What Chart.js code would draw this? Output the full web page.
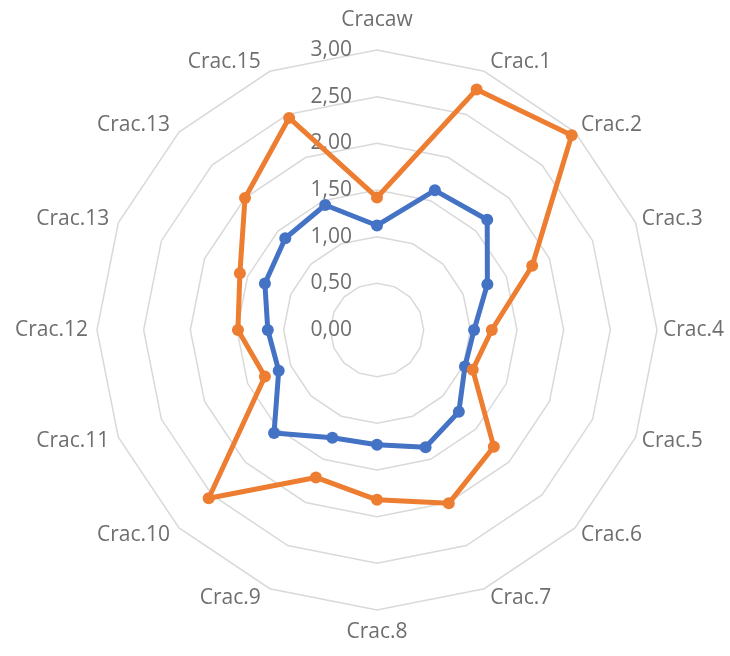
<!DOCTYPE html>
<html>
<head>
<meta charset="utf-8">
<title>Crac radar</title>
<script src="https://cdn.jsdelivr.net/npm/chart.js@4/dist/chart.umd.min.js"></script>
<style>
  html, body { margin: 0; padding: 0; background: #ffffff; }
  #c { display: block; }
</style>
</head>
<body>
<canvas id="c" width="730" height="656"></canvas>
<script>
// Categories around the radar, clockwise from the top
const categories = ['Cracaw', 'Crac.1', 'Crac.2', 'Crac.3', 'Crac.4', 'Crac.5', 'Crac.6', 'Crac.7',
                    'Crac.8', 'Crac.9', 'Crac.10', 'Crac.11', 'Crac.12', 'Crac.13', 'Crac.13', 'Crac.15'];

// Series values
const orangeValues = [1.42, 2.79, 2.95, 1.80, 1.23, 1.11, 1.77, 2.01, 1.82, 1.71, 2.55, 1.30, 1.49, 1.59, 2.00, 2.46];
const blueValues   = [1.12, 1.62, 1.67, 1.28, 1.04, 1.02, 1.24, 1.36, 1.23, 1.25, 1.56, 1.14, 1.17, 1.30, 1.39, 1.45];

// Value axis tick labels (0 to 3 in steps of 0.5)
const tickLabels = ['0,00', '0,50', '1,00', '1,50', '2,00', '2,50', '3,00'];

const LABEL_FONT = '21px "Open Sans"';
const LABEL_COLOR = '#6e6e6e';

// Draws value labels left of the vertical axis and category labels outside the outer ring,
// placed from the radial scale's own geometry.
const radarLabels = {
  id: 'radarLabels',
  beforeDatasetsDraw(chart) {
    const s = chart.scales.r;
    const ctx = chart.ctx;
    ctx.save();
    ctx.font = LABEL_FONT;
    ctx.fillStyle = LABEL_COLOR;
    ctx.textBaseline = 'middle';

    ctx.textAlign = 'right';
    s.ticks.forEach((t, i) => {
      const y = s.yCenter - s.getDistanceFromCenterForValue(t.value);
      ctx.fillText(tickLabels[i], s.xCenter - 25, y);
    });

    categories.forEach((name, i) => {
      const p = s.getPointPosition(i, s.drawingArea);
      const a = s.getIndexAngle(i);
      const sin = Math.sin(a), cos = Math.cos(a);
      let x = p.x, y;
      if (Math.abs(sin) < 0.01) {
        ctx.textAlign = 'center';
        y = cos > 0 ? p.y - 30 : p.y + 22;
      } else {
        ctx.textAlign = sin > 0 ? 'left' : 'right';
        x += sin > 0 ? 6 : -9;
        y = p.y - cos * 10;
      }
      ctx.fillText(name, x, y);
    });
    ctx.restore();
  }
};

const lineStyle = (color) => ({
  borderColor: color,
  backgroundColor: color,
  pointBackgroundColor: color,
  pointBorderColor: color,
  borderWidth: 5,
  pointRadius: 6,
  pointBorderWidth: 0,
  borderJoinStyle: 'round',
  borderCapStyle: 'round',
  fill: false,
  tension: 0
});

new Chart(document.getElementById('c'), {
  type: 'radar',
  data: {
    labels: categories,
    datasets: [
      Object.assign({ label: 'Series 1', data: blueValues, order: 1 }, lineStyle('#4472C4')),
      Object.assign({ label: 'Series 2', data: orangeValues, order: 0 }, lineStyle('#ED7D31'))
    ]
  },
  options: {
    responsive: false,
    animation: false,
    devicePixelRatio: 1,
    layout: { padding: { top: 50, bottom: 46, left: 97, right: 73 } },
    plugins: {
      legend: { display: false },
      tooltip: { enabled: false }
    },
    scales: {
      r: {
        min: 0,
        max: 3,
        beginAtZero: true,
        ticks: { stepSize: 0.5, display: false },
        grid: { color: '#d9d9d9', lineWidth: 1.5 },
        angleLines: { display: false },
        pointLabels: { display: false }
      }
    }
  },
  plugins: [radarLabels]
});
</script>
</body>
</html>
